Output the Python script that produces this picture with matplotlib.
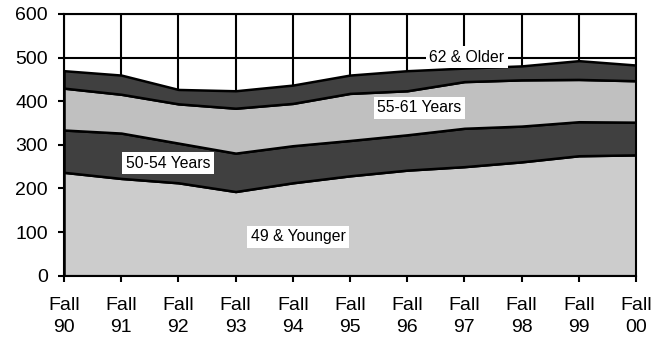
import matplotlib.pyplot as plt
import numpy as np

plt.rcParams["font.family"] = ["Liberation Sans", "DejaVu Sans"]

# 按年份的人数（各年龄段）
years = ["90", "91", "92", "93", "94", "95", "96", "97", "98", "99", "00"]
age_49_younger = [237, 223, 213, 193, 213, 229, 242, 250, 261, 275, 277]
age_50_54 = [97, 104, 91, 88, 85, 81, 81, 88, 82, 78, 75]
age_55_61 = [96, 89, 90, 103, 97, 108, 101, 107, 106, 97, 95]
age_62_older = [40, 44, 33, 40, 42, 42, 46, 31, 32, 43, 36]

series = [age_49_younger, age_50_54, age_55_61, age_62_older]
colors = ["#cccccc", "#404040", "#c0c0c0", "#404040"]

fig = plt.figure(figsize=(6.67, 3.44), dpi=100)
ax = fig.add_axes([64 / 667, 68.3 / 344, (636 - 64) / 667, (275.7 - 14) / 344])

x = np.arange(len(years))
ax.stackplot(x, *series, colors=colors, edgecolor="black", linewidth=1.8, zorder=2)

ax.set_xlim(0, len(years) - 1)
ax.set_ylim(0, 600)
ax.set_yticks(range(0, 601, 100))
ax.set_xticks(x)
ax.set_xticklabels([f"Fall\n{y}" for y in years], linespacing=1.45)
ax.tick_params(axis="both", direction="out", length=4.5, width=1.5, labelsize=14,
               color="black")
ax.tick_params(axis="x", pad=10.5)
ax.tick_params(axis="y", pad=7)

ax.set_axisbelow(True)
ax.grid(True, color="black", linewidth=1.5)
for sp in ax.spines.values():
    sp.set_linewidth(1.5)
    sp.set_color("black")
    sp.set_zorder(3)

box = dict(facecolor="white", edgecolor="none", pad=2.5)
label_kw = dict(fontsize=11.3, ha="center", va="center", bbox=box, zorder=5)
ax.text(1.82, 258, "50-54 Years", **label_kw)
ax.text(4.09, 89, "49 & Younger", **label_kw)
ax.text(6.21, 385, "55-61 Years", **label_kw)
ax.text(7.04, 501, "62 & Older", **label_kw)

fig.savefig("out.png", dpi=100)
